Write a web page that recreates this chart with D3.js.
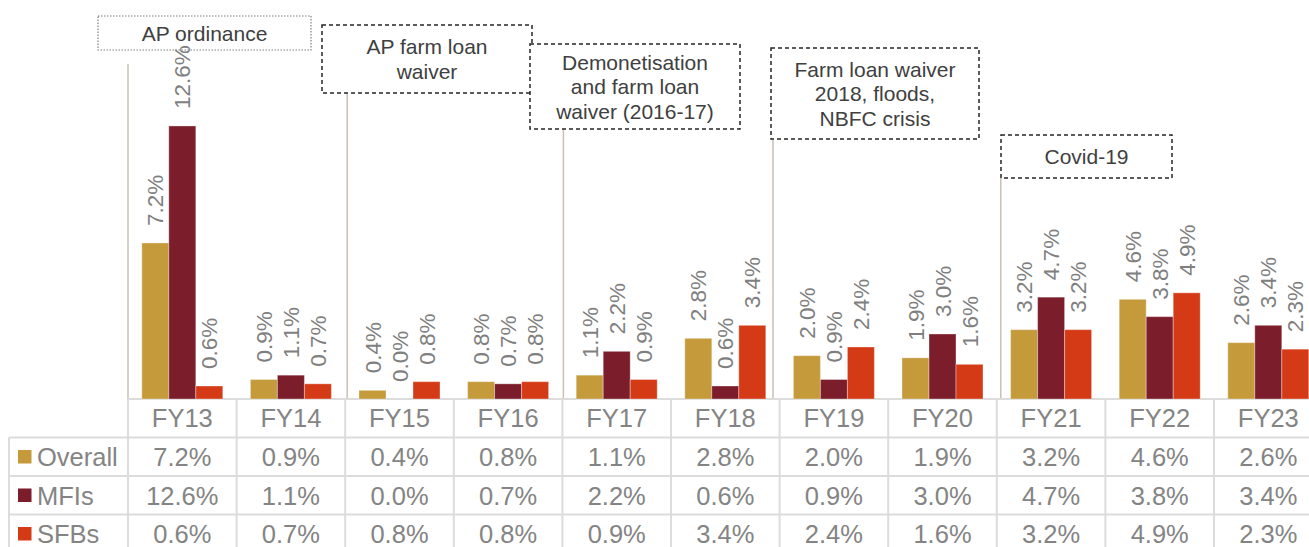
<!DOCTYPE html>
<html>
<head>
<meta charset="utf-8">
<script src="https://cdn.jsdelivr.net/npm/d3@7"></script>
<style>
  body { margin: 0; background: #fff; }
  svg { display: block; font-family: "Liberation Sans", Arial, sans-serif; }
</style>
</head>
<body>
<div id="chart"></div>
<script>
// Data
var categories = ["FY13", "FY14", "FY15", "FY16", "FY17", "FY18", "FY19", "FY20", "FY21", "FY22", "FY23"];
var seriesNames = ["Overall", "MFIs", "SFBs"];
var overall = [7.2, 0.9, 0.4, 0.8, 1.1, 2.8, 2.0, 1.9, 3.2, 4.6, 2.6];
var mfis = [12.6, 1.1, 0.0, 0.7, 2.2, 0.6, 0.9, 3.0, 4.7, 3.8, 3.4];
var sfbs = [0.6, 0.7, 0.8, 0.8, 0.9, 3.4, 2.4, 1.6, 3.2, 4.9, 2.3];
var seriesColors = ["#c49a3b", "#7b1d2a", "#d53a17"];

// Event notes and the year they point at
var eventLines = [["AP ordinance"], ["AP farm loan", "waiver"], ["Demonetisation", "and farm loan", "waiver (2016-17)"],
  ["Farm loan waiver", "2018, floods,", "NBFC crisis"], ["Covid-19"]];
var eventYears = ["FY13", "FY15", "FY17", "FY19", "FY21"];

var svgWidth = 1309;
var svgHeight = 547;

var svg = d3.select("#chart")
  .append("svg")
  .attr("width", svgWidth)
  .attr("height", svgHeight);

var colW = 108.6;
var baseY = 399;
var pxPerPct = 21.67;

var x0 = d3.scaleBand()
  .domain(categories)
  .range([128, 128 + colW * categories.length])
  .padding(0);

var x1 = d3.scaleBand()
  .domain(seriesNames)
  .range([13.8, colW - 13.8])
  .padding(0);

var y = d3.scaleLinear()
  .domain([0, 14])
  .range([baseY, baseY - 14 * pxPerPct]);

var values = [overall, mfis, sfbs];
var barData = [];
categories.forEach(function(c, i) {
  seriesNames.forEach(function(s, j) {
    barData.push({ cat: c, series: s, value: values[j][i], color: seriesColors[j] });
  });
});

// event boxes (layout)
var boxes = [
  { x: 98, y: 16, w: 213, h: 34, dash: "1.5,1.5", stroke: "#7f7f7f", dx: 0 },
  { x: 322, y: 25, w: 210, h: 68, dash: "4,3", stroke: "#262626", dx: 2 },
  { x: 530, y: 44, w: 210, h: 85, dash: "4,3", stroke: "#262626", dx: 1 },
  { x: 771, y: 48, w: 208, h: 91, dash: "4,3", stroke: "#262626", dx: -6.6 },
  { x: 1001, y: 135, w: 171, h: 43, dash: "4,3", stroke: "#262626", dx: 4 }
];

// vertical event lines
var lineGroup = svg.append("g");
eventYears.forEach(function(yr, i) {
  var b = boxes[i];
  var lx = x0(yr) + b.dx;
  lineGroup.append("line")
    .attr("x1", lx).attr("x2", lx)
    .attr("y1", i === 0 ? 64 : b.y + b.h)
    .attr("y2", baseY)
    .attr("stroke", "#c9c1b5")
    .attr("stroke-width", 1.5);
});

// table grid
var tableG = svg.append("g");
var rowTops = [399, 437.5, 476, 514.5, 553];
var gridColor = "#dcdcdc";
var tableRight = x0.range()[1];
rowTops.forEach(function(t, i) {
  tableG.append("line")
    .attr("x1", i === 0 ? 128 : 9).attr("x2", tableRight)
    .attr("y1", t).attr("y2", t)
    .attr("stroke", gridColor).attr("stroke-width", 2);
});
categories.forEach(function(c) {
  tableG.append("line")
    .attr("x1", x0(c)).attr("x2", x0(c))
    .attr("y1", 399).attr("y2", svgHeight)
    .attr("stroke", gridColor).attr("stroke-width", 2);
});
tableG.append("line")
  .attr("x1", 9).attr("x2", 9)
  .attr("y1", 437.5).attr("y2", svgHeight)
  .attr("stroke", gridColor).attr("stroke-width", 2);

// header labels
tableG.selectAll(".hdr")
  .data(categories)
  .enter().append("text")
  .attr("x", function(d) { return x0(d) + colW / 2; })
  .attr("y", 427)
  .attr("text-anchor", "middle")
  .attr("fill", "#848484")
  .style("font-size", "25.5px")
  .text(function(d) { return d; });

// legend + value rows
seriesNames.forEach(function(s, j) {
  var top = rowTops[j + 1];
  var base = top + 28.5;
  tableG.append("rect")
    .attr("x", 18).attr("y", top + 12.5)
    .attr("width", 13.5).attr("height", 13.5)
    .attr("fill", seriesColors[j]);
  tableG.append("text")
    .attr("x", 37).attr("y", base)
    .attr("fill", "#848484")
    .style("font-size", "25.5px")
    .text(s);
  tableG.selectAll(".v" + j)
    .data(values[j])
    .enter().append("text")
    .attr("x", function(d, i) { return x0(categories[i]) + colW / 2; })
    .attr("y", base)
    .attr("text-anchor", "middle")
    .attr("fill", "#848484")
    .style("font-size", "25.5px")
    .text(function(d) { return d.toFixed(1) + "%"; });
});

// bars
var barG = svg.append("g");
barG.selectAll("rect")
  .data(barData)
  .enter().append("rect")
  .attr("x", function(d) { return x0(d.cat) + x1(d.series); })
  .attr("y", function(d) { return y(d.value); })
  .attr("width", x1.bandwidth())
  .attr("height", function(d) { return baseY - y(d.value); })
  .attr("fill", function(d) { return d.color; })
  .attr("stroke", "#ffffff")
  .attr("stroke-opacity", 0.35)
  .attr("stroke-width", 1);

// rotated value labels
barG.selectAll(".lbl")
  .data(barData)
  .enter().append("text")
  .attr("transform", function(d) {
    var cx = x0(d.cat) + x1(d.series) + x1.bandwidth() / 2;
    return "translate(" + cx + "," + (y(d.value) - 17) + ") rotate(-90)";
  })
  .attr("dy", "0.36em")
  .attr("fill", "#7f7f7f")
  .style("font-size", "22.5px")
  .text(function(d) { return d.value.toFixed(1) + "%"; });

// event boxes
var boxG = svg.append("g");
boxes.forEach(function(b, i) {
  boxG.append("rect")
    .attr("x", b.x).attr("y", b.y)
    .attr("width", b.w).attr("height", b.h)
    .attr("fill", i === 0 ? "none" : "#ffffff")
    .attr("stroke", b.stroke)
    .attr("stroke-width", i === 0 ? 1.2 : 1.5)
    .attr("stroke-dasharray", b.dash);
  var lines = eventLines[i];
  var lh = 24.5;
  var cy = b.y + b.h / 2;
  lines.forEach(function(t, k) {
    boxG.append("text")
      .attr("x", b.x + b.w / 2)
      .attr("y", cy + (k - (lines.length - 1) / 2) * lh)
      .attr("dy", "0.36em")
      .attr("text-anchor", "middle")
      .attr("fill", "#404040")
      .style("font-size", "21px")
      .text(t);
  });
});
</script>
</body>
</html>
